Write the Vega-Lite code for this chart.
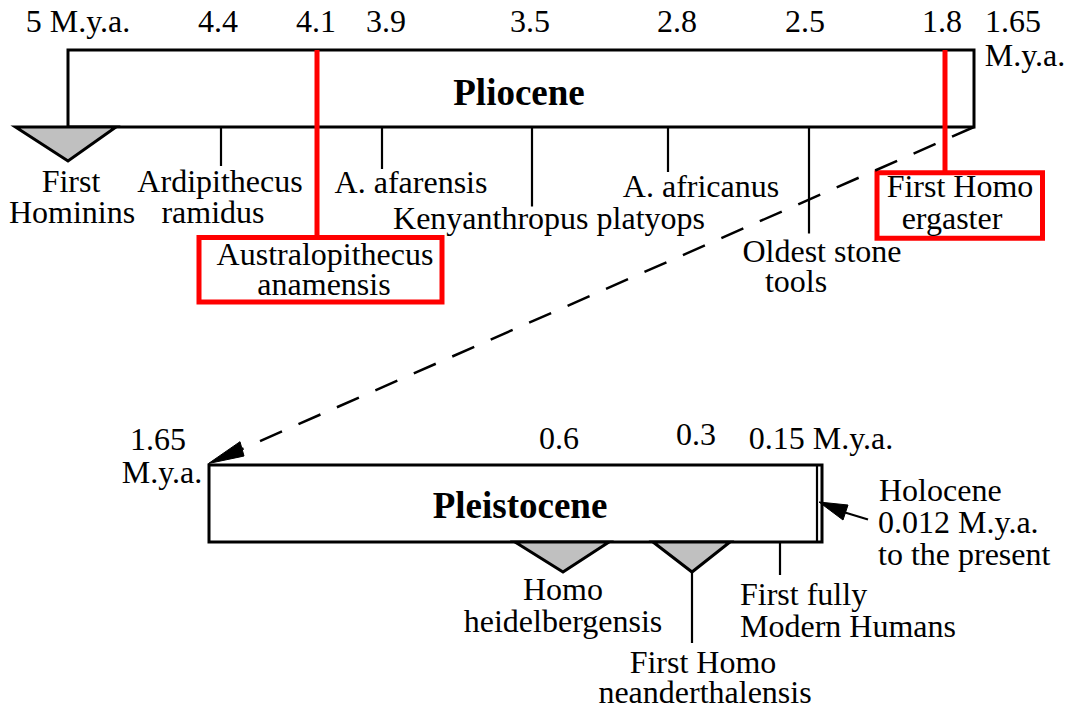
{
  "$schema": "https://vega.github.io/schema/vega-lite/v6.json",
  "width": 1073,
  "height": 711,
  "autosize": {"type": "fit", "contains": "padding"},
  "padding": 0,
  "background": "white",
  "config": {"view": {"stroke": null}},
  "datasets": {
    "boxes": [
      {"name": "Pliocene", "x": 68, "x2": 974, "y": 50, "y2": 127},
      {"name": "Pleistocene", "x": 209, "x2": 822, "y": 465, "y2": 542}
    ],
    "triangles": [
      {"id": "First Hominins", "x": 15.5, "y": 127, "y2": 127},
      {"id": "First Hominins", "x": 68, "y": 161, "y2": 127},
      {"id": "First Hominins", "x": 116, "y": 127, "y2": 127},
      {"id": "Homo heidelbergensis", "x": 515, "y": 542, "y2": 542},
      {"id": "Homo heidelbergensis", "x": 563, "y": 572, "y2": 542},
      {"id": "Homo heidelbergensis", "x": 609, "y": 542, "y2": 542},
      {"id": "Homo neanderthalensis", "x": 653, "y": 542, "y2": 542},
      {"id": "Homo neanderthalensis", "x": 692, "y": 572, "y2": 542},
      {"id": "Homo neanderthalensis", "x": 730, "y": 542, "y2": 542}
    ],
    "ticks": [
      {"name": "Ardipithecus ramidus", "x": 221, "x2": 221, "y": 127, "y2": 166},
      {"name": "A. afarensis", "x": 382, "x2": 382, "y": 127, "y2": 169},
      {"name": "Kenyanthropus platyops", "x": 532, "x2": 532, "y": 127, "y2": 206.5},
      {"name": "A. africanus", "x": 668, "x2": 668, "y": 127, "y2": 172},
      {"name": "Oldest stone tools", "x": 809, "x2": 809, "y": 127, "y2": 233.5},
      {"name": "First Homo neanderthalensis", "x": 692, "x2": 692, "y": 572, "y2": 643},
      {"name": "First fully Modern Humans", "x": 780, "x2": 780, "y": 542, "y2": 575},
      {"name": "Holocene boundary", "x": 817, "x2": 817, "y": 465, "y2": 542},
      {"name": "Holocene pointer", "x": 845, "x2": 868, "y": 512.5, "y2": 519.5}
    ],
    "redlines": [
      {"name": "Australopithecus anamensis", "x": 317, "x2": 317, "y": 50, "y2": 237.5},
      {"name": "First Homo ergaster", "x": 945, "x2": 945, "y": 50, "y2": 172.7}
    ],
    "redboxes": [
      {"name": "Australopithecus anamensis", "x": 199, "x2": 442, "y": 237.5, "y2": 302},
      {"name": "First Homo ergaster", "x": 877, "x2": 1042.5, "y": 172.7, "y2": 238.3}
    ],
    "dashed": [
      {"name": "link", "x": 974, "x2": 242, "y": 127, "y2": 449}
    ],
    "arrowheads": [
      {"id": "a1", "x": 208.5, "y": 463.5, "y2": 463.5},
      {"id": "a1", "x": 240, "y": 441.7, "y2": 456.9},
      {"id": "a1", "x": 244, "y": 456, "y2": 456},
      {"id": "a2", "x": 819, "y": 502, "y2": 502},
      {"id": "a2", "x": 843, "y": 504.5, "y2": 520},
      {"id": "a2", "x": 848, "y": 505, "y2": 505}
    ],
    "labels_center": [
      {"x": 78, "y": 32, "text": "5 M.y.a."},
      {"x": 218, "y": 32, "text": "4.4"},
      {"x": 316, "y": 32, "text": "4.1"},
      {"x": 386, "y": 32, "text": "3.9"},
      {"x": 530, "y": 32, "text": "3.5"},
      {"x": 677, "y": 32, "text": "2.8"},
      {"x": 805, "y": 32, "text": "2.5"},
      {"x": 942, "y": 32, "text": "1.8"},
      {"x": 1013, "y": 32, "text": "1.65"},
      {"x": 1025, "y": 66, "text": "M.y.a."},
      {"x": 71, "y": 192, "text": "First"},
      {"x": 72, "y": 223, "text": "Hominins"},
      {"x": 220, "y": 192, "text": "Ardipithecus"},
      {"x": 213, "y": 223, "text": "ramidus"},
      {"x": 411, "y": 193, "text": "A. afarensis"},
      {"x": 549, "y": 229, "text": "Kenyanthropus platyops"},
      {"x": 701, "y": 197, "text": "A. africanus"},
      {"x": 325, "y": 265, "text": "Australopithecus"},
      {"x": 324, "y": 295, "text": "anamensis"},
      {"x": 822, "y": 262, "text": "Oldest stone"},
      {"x": 796, "y": 292, "text": "tools"},
      {"x": 960, "y": 197, "text": "First Homo"},
      {"x": 952, "y": 228.5, "text": "ergaster"},
      {"x": 158, "y": 450, "text": "1.65"},
      {"x": 162, "y": 483, "text": "M.y.a."},
      {"x": 559, "y": 449, "text": "0.6"},
      {"x": 696, "y": 445, "text": "0.3"},
      {"x": 821, "y": 449, "text": "0.15 M.y.a."},
      {"x": 563, "y": 600, "text": "Homo"},
      {"x": 563, "y": 632, "text": "heidelbergensis"},
      {"x": 703, "y": 673, "text": "First Homo"},
      {"x": 705, "y": 703, "text": "neanderthalensis"}
    ],
    "labels_left": [
      {"x": 740, "y": 605, "text": "First fully"},
      {"x": 740, "y": 637, "text": "Modern Humans"},
      {"x": 879, "y": 501, "text": "Holocene"},
      {"x": 878, "y": 533, "text": "0.012 M.y.a."},
      {"x": 878, "y": 565, "text": "to the present"}
    ],
    "titles": [
      {"x": 519, "y": 104.5, "text": "Pliocene"},
      {"x": 520, "y": 518, "text": "Pleistocene"}
    ]
  },
  "layer": [
    {
      "data": {"name": "boxes"},
      "mark": {"type": "rect", "fill": "white", "stroke": "black", "strokeWidth": 3},
      "encoding": {
        "x": {"field": "x", "type": "quantitative", "scale": {"domain": [0, 1073], "nice": false, "zero": false}, "axis": null},
        "x2": {"field": "x2"},
        "y": {"field": "y", "type": "quantitative", "scale": {"domain": [0, 711], "nice": false, "zero": false, "reverse": true}, "axis": null},
        "y2": {"field": "y2"}
      }
    },
    {
      "data": {"name": "triangles"},
      "mark": {"type": "area", "fill": "#c0c0c0", "fillOpacity": 1, "stroke": "black", "strokeWidth": 3, "strokeJoin": "miter"},
      "encoding": {
        "x": {"field": "x", "type": "quantitative"},
        "y": {"field": "y", "type": "quantitative"},
        "y2": {"field": "y2"},
        "detail": {"field": "id"}
      }
    },
    {
      "data": {"name": "ticks"},
      "mark": {"type": "rule", "color": "black", "strokeWidth": 2.2},
      "encoding": {
        "x": {"field": "x", "type": "quantitative"},
        "x2": {"field": "x2"},
        "y": {"field": "y", "type": "quantitative"},
        "y2": {"field": "y2"}
      }
    },
    {
      "data": {"name": "redlines"},
      "mark": {"type": "rule", "color": "#ff0000", "strokeWidth": 5},
      "encoding": {
        "x": {"field": "x", "type": "quantitative"},
        "x2": {"field": "x2"},
        "y": {"field": "y", "type": "quantitative"},
        "y2": {"field": "y2"}
      }
    },
    {
      "data": {"name": "redboxes"},
      "mark": {"type": "rect", "fill": "white", "fillOpacity": 0, "stroke": "#ff0000", "strokeWidth": 5},
      "encoding": {
        "x": {"field": "x", "type": "quantitative"},
        "x2": {"field": "x2"},
        "y": {"field": "y", "type": "quantitative"},
        "y2": {"field": "y2"}
      }
    },
    {
      "data": {"name": "dashed"},
      "mark": {"type": "rule", "color": "black", "strokeWidth": 2.5, "strokeDash": [24, 18]},
      "encoding": {
        "x": {"field": "x", "type": "quantitative"},
        "x2": {"field": "x2"},
        "y": {"field": "y", "type": "quantitative"},
        "y2": {"field": "y2"}
      }
    },
    {
      "data": {"name": "arrowheads"},
      "mark": {"type": "area", "fill": "black", "fillOpacity": 1, "stroke": "black", "strokeWidth": 1},
      "encoding": {
        "x": {"field": "x", "type": "quantitative"},
        "y": {"field": "y", "type": "quantitative"},
        "y2": {"field": "y2"},
        "detail": {"field": "id"}
      }
    },
    {
      "data": {"name": "labels_center"},
      "mark": {"type": "text", "font": "Liberation Serif", "fontSize": 32, "align": "center", "baseline": "alphabetic", "color": "black"},
      "encoding": {
        "x": {"field": "x", "type": "quantitative"},
        "y": {"field": "y", "type": "quantitative"},
        "text": {"field": "text"}
      }
    },
    {
      "data": {"name": "labels_left"},
      "mark": {"type": "text", "font": "Liberation Serif", "fontSize": 32, "align": "left", "baseline": "alphabetic", "color": "black"},
      "encoding": {
        "x": {"field": "x", "type": "quantitative"},
        "y": {"field": "y", "type": "quantitative"},
        "text": {"field": "text"}
      }
    },
    {
      "data": {"name": "titles"},
      "mark": {"type": "text", "font": "Liberation Serif", "fontSize": 37, "fontWeight": "bold", "align": "center", "baseline": "alphabetic", "color": "black"},
      "encoding": {
        "x": {"field": "x", "type": "quantitative"},
        "y": {"field": "y", "type": "quantitative"},
        "text": {"field": "text"}
      }
    }
  ]
}
